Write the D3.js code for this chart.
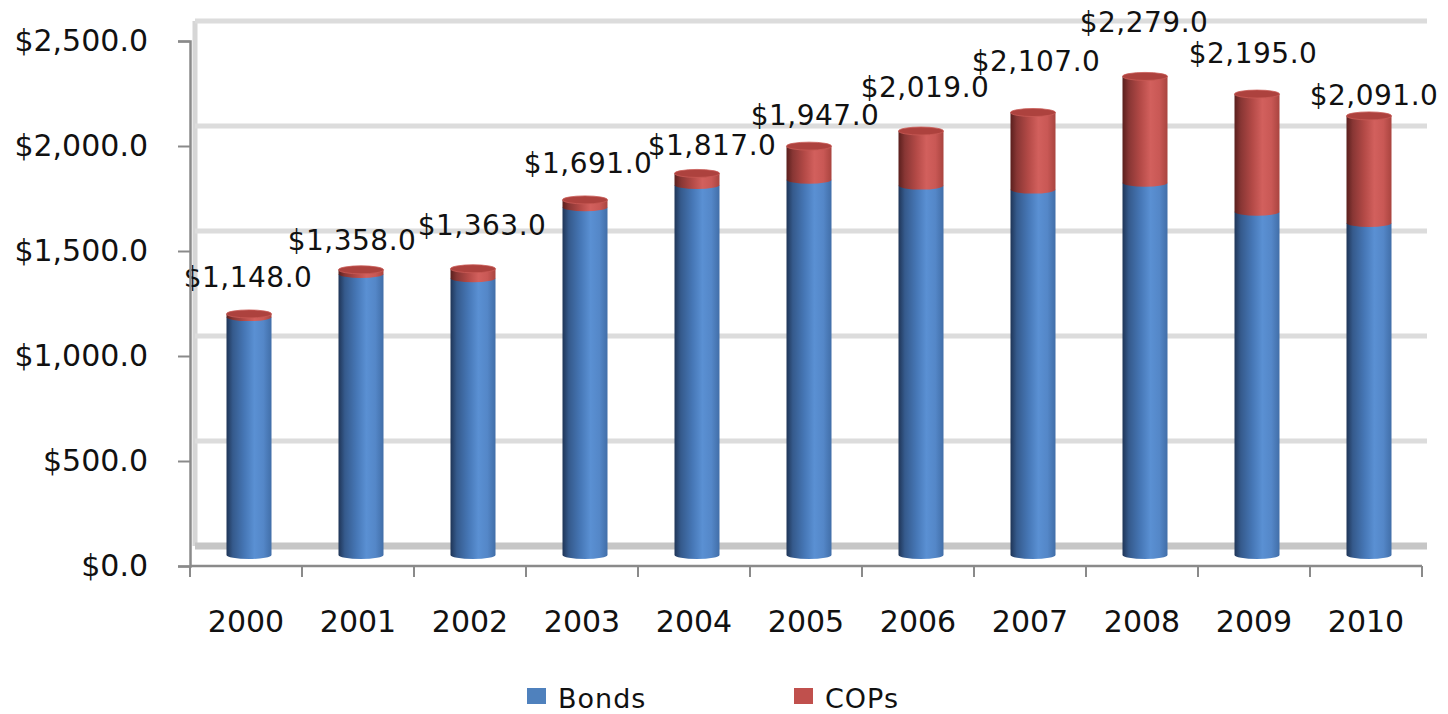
<!DOCTYPE html>
<html>
<head>
<meta charset="utf-8">
<script src="https://cdn.jsdelivr.net/npm/d3@7"></script>
<style>
  body { margin: 0; background: #fff; }
  svg text { font-family: "DejaVu Sans", Verdana, sans-serif; fill: #111; }
</style>
</head>
<body>
<div id="chart"></div>
<script>
// data
const years = ['2000','2001','2002','2003','2004','2005','2006','2007','2008','2009','2010'];
const bonds = [1133, 1338, 1318, 1656, 1762, 1787, 1759, 1740, 1773, 1635, 1581];
const cops  = [15, 20, 45, 35, 55, 160, 260, 367, 506, 560, 510];
const yTicks = [0, 500, 1000, 1500, 2000, 2500];
const seriesNames = ['Bonds', 'COPs'];
const seriesColors = ['#4f81bd', '#c0504d'];

// the total labels were dragged around by hand in the original, nudge them the same way
const labelNudge = [[-1,-27],[-9,-20],[9,-34],[3,-27],[15,-18],[6,-21],[4,-34],[3,-42],[-1,-44],[-4,-31],[5,-11]];

const width = 1448, height = 714;
const svg = d3.select('#chart').append('svg')
  .attr('width', width).attr('height', height)
  .attr('viewBox', `0 0 ${width} ${height}`);

const x = d3.scaleBand().domain(years).range([190, 1422]).padding(0);
const y = d3.scaleLinear().domain([0, 2500]).range([566, 41]);
const fmt = d3.format('$,.1f');

// depth offsets of the 3d look
const wallDx = 5, wallDy = -20;   // back wall
const barDy = -11;                 // bars sit half way in
const rx = 22.5, ry = 4;
const barX = d => x(d) + x.bandwidth() / 2 + 3;

// gradients for the cylinders
const defs = svg.append('defs');
const grads = [
  ['#1f3557', '#355a8c', '#4677b6', '#5a90d3', '#5487c8', '#416ea8'],
  ['#5a1f1d', '#883634', '#b44a47', '#d2605d', '#c95855', '#a9443f']
];
grads.forEach((stops, i) => {
  const g = defs.append('linearGradient').attr('id', 'g' + i)
    .attr('x1', 0).attr('x2', 1).attr('y1', 0).attr('y2', 0);
  [0, 0.14, 0.4, 0.62, 0.82, 1].forEach((o, j) => {
    g.append('stop').attr('offset', o).attr('stop-color', stops[j]);
  });
});

// back wall + gridlines
const wall = svg.append('g');
wall.append('line')
  .attr('x1', 190 + wallDx).attr('x2', 190 + wallDx)
  .attr('y1', y(2500) + wallDy).attr('y2', y(0) + wallDy)
  .attr('stroke', '#d6d6d6').attr('stroke-width', 5);
wall.selectAll('.grid').data(yTicks).enter().append('line')
  .attr('class', 'grid')
  .attr('x1', 190 + wallDx).attr('x2', 1422 + wallDx)
  .attr('y1', d => y(d) + wallDy).attr('y2', d => y(d) + wallDy)
  .attr('stroke', d => d === 0 ? '#c6c6c6' : '#dcdcdc')
  .attr('stroke-width', d => d === 0 ? 7 : 5);

// stacked cylinders
const stacked = years.map((yr, i) => {
  return [
    { yr: yr, k: 0, y0: 0, y1: bonds[i] },
    { yr: yr, k: 1, y0: bonds[i], y1: bonds[i] + cops[i] }
  ];
});

const bars = svg.append('g').selectAll('g').data(stacked).enter().append('g');

function sidePath(d) {
  const cx = barX(d.yr);
  const top = y(d.y1) + barDy, bot = y(d.y0) + barDy;
  return `M${cx - rx},${top} L${cx + rx},${top} L${cx + rx},${bot}` +
    ` A${rx},${ry} 0 0 1 ${cx - rx},${bot} Z`;
}

bars.selectAll('path').data(d => d).enter().append('path')
  .attr('d', sidePath)
  .attr('fill', d => `url(#g${d.k})`);

// top caps
bars.append('ellipse')
  .attr('cx', d => barX(d[1].yr))
  .attr('cy', d => y(d[1].y1) + barDy)
  .attr('rx', rx).attr('ry', ry)
  .attr('fill', '#ad423e')
  .attr('stroke', '#c95a56').attr('stroke-width', 0.8);

// total labels
bars.append('text')
  .attr('x', (d, i) => barX(d[1].yr) + labelNudge[i][0])
  .attr('y', (d, i) => y(d[1].y1) + barDy + labelNudge[i][1])
  .attr('text-anchor', 'middle')
  .attr('font-size', 28)
  .attr('letter-spacing', 0.5)
  .text(d => fmt(d[1].y1));

// y axis
const yAxis = svg.append('g')
  .attr('transform', 'translate(190,0)')
  .call(d3.axisLeft(y).tickValues(yTicks).tickFormat(fmt).tickSize(12).tickPadding(30));
yAxis.select('.domain').attr('stroke', '#8a8a8a').attr('stroke-width', 2.5);
yAxis.selectAll('.tick line').attr('stroke', '#8a8a8a').attr('stroke-width', 2);
yAxis.selectAll('.tick text').attr('font-size', 30).attr('fill', '#111')
  .attr('font-family', '"DejaVu Sans", Verdana, sans-serif');

// x axis
const xAxis = svg.append('g');
xAxis.append('line')
  .attr('x1', 190).attr('x2', 1422).attr('y1', 566).attr('y2', 566)
  .attr('stroke', '#8a8a8a').attr('stroke-width', 2.5);
const bounds = years.map(d => x(d)).concat([x.range()[1]]);
xAxis.selectAll('.xt').data(bounds).enter().append('line')
  .attr('x1', d => d).attr('x2', d => d).attr('y1', 566).attr('y2', 577)
  .attr('stroke', '#8a8a8a').attr('stroke-width', 2);
xAxis.selectAll('text').data(years).enter().append('text')
  .attr('x', d => x(d) + x.bandwidth() / 2)
  .attr('y', 632)
  .attr('text-anchor', 'middle')
  .attr('font-size', 30)
  .text(d => d);

// legend
const legend = svg.append('g').selectAll('g').data(seriesNames).enter().append('g')
  .attr('transform', (d, i) => `translate(${527 + i * 267},688)`);
legend.append('rect').attr('width', 19).attr('height', 16)
  .attr('fill', (d, i) => seriesColors[i]);
legend.append('text').attr('x', 31).attr('y', 20)
  .attr('font-size', 27).attr('letter-spacing', 1)
  .text(d => d);
</script>
</body>
</html>
